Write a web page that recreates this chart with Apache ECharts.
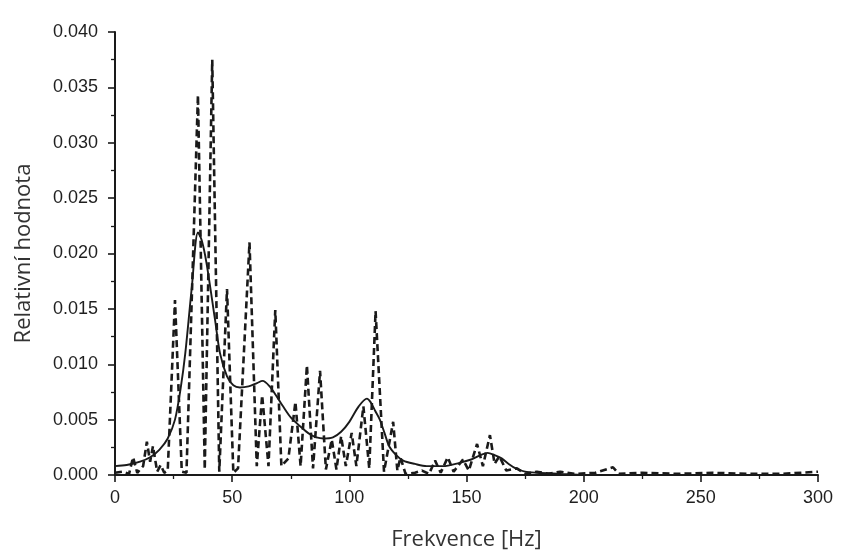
<!DOCTYPE html>
<html>
<head>
<meta charset="utf-8">
<script src="https://cdn.jsdelivr.net/npm/echarts@6/dist/echarts.min.js"></script>
<style>
  html, body { margin: 0; padding: 0; background: #ffffff; }
  #chart { width: 861px; height: 556px; }
</style>
</head>
<body>
<div id="chart"></div>
<script>
// Raw spectrum (dashed): frequency in Hz and relative value
var spectrumFreq = [0, 3, 6, 7.7, 9.5, 12, 13.6, 15, 16.2, 18, 19.5, 21, 22.5, 25.6, 28.5, 30.5,
  35.4, 38.3, 41.5, 44.5, 47.8, 50.5, 52.5, 57.4, 60.5, 62.8, 65.5, 68.4, 71, 74, 77, 79.2,
  81.9, 84.5, 87.5, 90, 92.5, 94.5, 96.5, 98.5, 101, 103, 106, 108.5, 111.2, 114.8, 118.7,
  120.5, 121.8, 124, 128, 131, 134, 136.6, 139, 142, 144.5, 148.5, 151, 154.5, 157, 160,
  162, 164, 167, 171.5, 175, 180, 185, 190, 196, 205, 212.5, 215, 225, 240, 255, 270, 285, 300];
var spectrumValue = [0.0002, 0.0003, 0.0001, 0.0016, 0.0002, 0.0008, 0.0030, 0.0012, 0.0026, 0.0003, 0.0009, 0.0002, 0.0004, 0.0158, 0.0003, 0.0002,
  0.0343, 0.0005, 0.0375, 0.0003, 0.0168, 0.0002, 0.0006, 0.0210, 0.0008, 0.0072, 0.0008, 0.0149, 0.0008, 0.0015, 0.0066, 0.0008,
  0.0099, 0.0006, 0.0094, 0.0005, 0.0032, 0.0005, 0.0035, 0.0008, 0.0038, 0.0008, 0.0062, 0.0006, 0.0148, 0.0003, 0.0048,
  0.0004, 0.0016, 0.0001, 0.0002, 0.0004, 0.0001, 0.0013, 0.0002, 0.0016, 0.0003, 0.0014, 0.0004, 0.0028, 0.0008, 0.0036,
  0.0010, 0.0017, 0.0004, 0.0006, 0.0001, 0.0003, 0.0001, 0.0003, 0.0001, 0.0002, 0.0007, 0.0001, 0.0002, 0.0001, 0.0002, 0.0001, 0.0001, 0.0003];

// Smoothed spectrum envelope (solid)
var smoothFreq = [0, 5, 10.7, 15, 19, 22.5, 25.6, 28, 30, 32.8, 35.4, 37, 39, 42.7, 44.8, 47.8,
  50.5, 53.3, 57, 60.6, 63, 66, 69, 71.7, 75, 79, 83, 86, 89, 93, 96.5, 100, 104, 107.5,
  109, 111, 113, 115, 117, 120, 123, 128, 133, 140, 147, 152, 156, 159, 162, 165, 168, 171,
  175, 180, 190, 200, 250, 300];
var smoothValue = [0.0008, 0.0009, 0.0012, 0.0016, 0.0023, 0.0033, 0.0050, 0.0078, 0.0110, 0.0170, 0.0219, 0.0212, 0.0192, 0.0140, 0.0110, 0.0089,
  0.0081, 0.0079, 0.0080, 0.0083, 0.0085, 0.0080, 0.0071, 0.0062, 0.0052, 0.0044, 0.0037, 0.0034, 0.0033, 0.0034, 0.0039, 0.0048, 0.0062, 0.0069,
  0.0066, 0.0058, 0.0050, 0.0038, 0.0026, 0.0018, 0.0013, 0.0010, 0.0008, 0.0008, 0.0011, 0.0014, 0.0018, 0.0020, 0.0018, 0.0015, 0.0010, 0.0006,
  0.0003, 0.0002, 0.0001, 0.0000, 0.0000, 0.0000];

// Axis settings
var xMin = 0, xMax = 300, xStep = 50;
var yMin = 0, yMax = 0.040, yStep = 0.005;

function pairs(xs, ys) {
  return xs.map(function (x, i) { return [x, ys[i]]; });
}

var chart = echarts.init(document.getElementById('chart'));
var ink = '#1a1a1a';
var tickFont = { color: '#1f1f1f', fontFamily: 'Liberation Sans, Arial, sans-serif', fontSize: 18 };
var nameFont = { color: '#333333', fontFamily: 'Open Sans, sans-serif', fontSize: 22 };

chart.setOption({
  backgroundColor: '#ffffff',
  animation: false,
  grid: { left: 115, right: 43, top: 32, bottom: 80 },
  xAxis: {
    type: 'value',
    min: xMin, max: xMax, interval: xStep,
    name: 'Frekvence [Hz]',
    nameLocation: 'middle',
    nameGap: 54,
    nameTextStyle: nameFont,
    axisLine: { show: true, onZero: false, lineStyle: { color: ink, width: 2 } },
    axisTick: { show: true, length: 7, lineStyle: { color: ink, width: 1.6 } },
    minorTick: { show: true, splitNumber: 2, length: 4, lineStyle: { color: ink, width: 1.3 } },
    axisLabel: Object.assign({ margin: 14 }, tickFont),
    splitLine: { show: false }
  },
  yAxis: {
    type: 'value',
    min: yMin, max: yMax, interval: yStep,
    name: 'Relativní hodnota',
    nameLocation: 'middle',
    nameGap: 80,
    nameTextStyle: nameFont,
    axisLine: { show: true, lineStyle: { color: ink, width: 2 } },
    axisTick: { show: true, length: 7, lineStyle: { color: ink, width: 1.6 } },
    minorTick: { show: true, splitNumber: 2, length: 4, lineStyle: { color: ink, width: 1.3 } },
    axisLabel: Object.assign({
      margin: 17,
      formatter: function (v) { return v.toFixed(3); }
    }, tickFont),
    splitLine: { show: false }
  },
  series: [
    {
      name: 'spektrum',
      type: 'line',
      data: pairs(spectrumFreq, spectrumValue),
      showSymbol: false,
      symbol: 'none',
      lineStyle: { color: ink, width: 2.6, type: [7, 4] },
      z: 2
    },
    {
      name: 'vyhlazené',
      type: 'line',
      data: pairs(smoothFreq, smoothValue),
      showSymbol: false,
      symbol: 'none',
      smooth: 0.3,
      lineStyle: { color: ink, width: 1.9 },
      z: 3
    }
  ]
});
</script>
</body>
</html>
